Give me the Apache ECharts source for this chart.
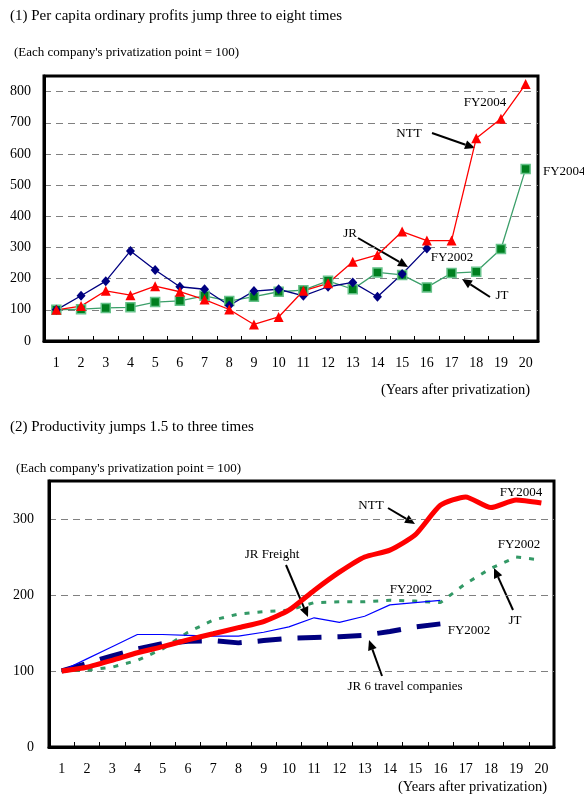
<!DOCTYPE html>
<html>
<head>
<meta charset="utf-8">
<script src="https://cdn.jsdelivr.net/npm/echarts@6/dist/echarts.min.js"></script>
<style>
  html, body { margin: 0; padding: 0; background: #fff; }
  #chart { width: 584px; height: 794px; }
</style>
</head>
<body>
<div id="chart"></div>
<script>
// years after privatization
const years = ['1','2','3','4','5','6','7','8','9','10','11','12','13','14','15','16','17','18','19','20'];

// (1) per capita ordinary profits
const profitNTT = [100, 112, 161, 147, 176, 158, 133, 101, 53, 77, 161, 185, 254, 276, 351, 322, 322, 650, 713, 824];
const profitJR  = [100, 145, 192, 289, 228, 174, 166, 114, 160, 166, 145, 174, 188, 142, 215, 297];
const profitJT  = [100, 102, 106, 108, 125, 129, 145, 128, 142, 158, 163, 193, 166, 220, 212, 172, 218, 222, 295, 552];

// (2) productivity
const prodNTT       = [100, 105, 114, 124, 132, 141, 149, 157, 165, 180, 206, 230, 250, 259, 279, 318, 329, 315, 325, 321];
const prodJRFreight = [100, 116, 132, 148, 148, 147, 146, 146, 151, 158, 170, 164, 172, 187, 190, 193];
const prodJR6       = [100, 110, 120, 129, 136, 139, 140, 137, 140, 143, 144, 145, 147, 152, 158, 162];
const prodJT        = [100, 101, 105, 114, 129, 151, 167, 175, 178, 180, 190, 191, 191, 193, 192, 190, 215, 235, 250, 246];

const FONT = '"Liberation Serif", "Times New Roman", serif';

var chart = echarts.init(document.getElementById('chart'));

function arrow(x1, y1, x2, y2) {
    const ang = Math.atan2(y2 - y1, x2 - x1);
    const L = 10, W = 4.5;
    const c = Math.cos(ang), s = Math.sin(ang);
    const bx = x2 - L * c, by = y2 - L * s;
    return [
        { type: 'line', shape: { x1: x1, y1: y1, x2: bx, y2: by }, style: { stroke: '#000', lineWidth: 2 } },
        { type: 'polygon', shape: { points: [[x2, y2], [bx - W * s, by + W * c], [bx + W * s, by - W * c]] }, style: { fill: '#000' } }
    ];
}

function label(text, x, y, size, align) {
    return {
        type: 'text', x: x, y: y, z: 100,
        style: { text: text, font: (size || 13) + 'px ' + FONT, fill: '#000', align: align || 'center', verticalAlign: 'middle' }
    };
}

function xAxisCfg(gridIndex) {
    return {
        type: 'category', gridIndex: gridIndex, data: years, boundaryGap: true,
        axisLine: { show: true, lineStyle: { color: '#000', width: 3 } },
        axisTick: { show: true, inside: true, length: 5, lineStyle: { color: '#000', width: 1 } },
        axisLabel: { color: '#000', fontFamily: FONT, fontSize: 14, margin: 15 },
        splitLine: { show: false }
    };
}

function yAxisCfg(gridIndex, max, margin) {
    return {
        type: 'value', gridIndex: gridIndex, min: 0, max: max, interval: 100,
        axisLine: { show: true, lineStyle: { color: '#000', width: 3 } },
        axisTick: { show: false },
        axisLabel: { color: '#000', fontFamily: FONT, fontSize: 14, margin: margin, showMaxLabel: false },
        splitLine: { show: true, showMinLine: false, showMaxLine: false, lineStyle: { color: '#808080', type: [7, 5], width: 1 } }
    };
}

var graphics = [
    label('(1) Per capita ordinary profits jump three to eight times', 10, 16, 15, 'left'),
    label("(Each company's privatization point = 100)", 14, 53, 13, 'left'),
    label('(Years after privatization)', 530, 390, 14.5, 'right'),
    label('(2) Productivity jumps 1.5 to three times', 10, 427, 15, 'left'),
    label("(Each company's privatization point = 100)", 16, 469, 13, 'left'),
    label('(Years after privatization)', 547, 787, 14.5, 'right'),

    // chart 1 notes
    label('FY2004', 485, 103),
    label('NTT', 409, 134),
    label('FY2004', 543, 172, 13, 'left'),
    label('JR', 350, 234),
    label('FY2002', 452, 258),
    label('JT', 502, 296),

    // chart 2 notes
    label('FY2004', 521, 493),
    label('NTT', 371, 506),
    label('JR Freight', 272, 555),
    label('FY2002', 411, 590),
    label('FY2002', 519, 545),
    label('JT', 515, 621),
    label('FY2002', 469, 631),
    label('JR 6 travel companies', 405, 687)
];
graphics = graphics
    .concat(arrow(432, 133, 475, 148))
    .concat(arrow(358, 238, 408, 267))
    .concat(arrow(490, 297, 462, 279))
    .concat(arrow(388, 508, 415, 524))
    .concat(arrow(286, 565, 308, 617))
    .concat(arrow(513, 610, 494, 568))
    .concat(arrow(382, 676, 369, 640));

option = {
    animation: false,
    backgroundColor: '#fff',
    textStyle: { fontFamily: FONT },
    grid: [
        { left: 44, top: 76, width: 494, height: 265, show: true, borderColor: '#000', borderWidth: 3, containLabel: false },
        { left: 49, top: 481, width: 505, height: 266, show: true, borderColor: '#000', borderWidth: 3, containLabel: false }
    ],
    xAxis: [xAxisCfg(0), xAxisCfg(1)],
    yAxis: [yAxisCfg(0, 850, 13), yAxisCfg(1, 350, 15)],
    graphic: graphics,
    series: [
        {
            name: 'JT', type: 'line', xAxisIndex: 0, yAxisIndex: 0, data: profitJT,
            symbol: 'rect', symbolSize: 9,
            lineStyle: { color: '#3c9f6a', width: 1.3 },
            itemStyle: { color: '#007f1f', borderColor: '#66c28a', borderWidth: 1.5 }
        },
        {
            name: 'JR', type: 'line', xAxisIndex: 0, yAxisIndex: 0, data: profitJR,
            symbol: 'diamond', symbolSize: [9, 10],
            lineStyle: { color: '#000080', width: 1.3 },
            itemStyle: { color: '#000080' }
        },
        {
            name: 'NTT', type: 'line', xAxisIndex: 0, yAxisIndex: 0, data: profitNTT,
            symbol: 'triangle', symbolSize: 10,
            lineStyle: { color: '#ff0000', width: 1.3 },
            itemStyle: { color: '#ff0000' }
        },
        {
            name: 'JR 6 travel companies', type: 'line', xAxisIndex: 1, yAxisIndex: 1, data: prodJR6,
            symbol: 'none',
            lineStyle: { color: '#000080', width: 5, type: [24, 16] }
        },
        {
            name: 'JT', type: 'line', xAxisIndex: 1, yAxisIndex: 1, data: prodJT,
            symbol: 'none',
            lineStyle: { color: '#339966', width: 3, type: [5, 8] }
        },
        {
            name: 'JR Freight', type: 'line', xAxisIndex: 1, yAxisIndex: 1, data: prodJRFreight,
            symbol: 'none',
            lineStyle: { color: '#0000ff', width: 1.2 }
        },
        {
            name: 'NTT', type: 'line', xAxisIndex: 1, yAxisIndex: 1, data: prodNTT,
            symbol: 'none', smooth: 0.2,
            lineStyle: { color: '#ff0000', width: 5 }
        }
    ]
};

chart.setOption(option);
</script>
</body>
</html>
